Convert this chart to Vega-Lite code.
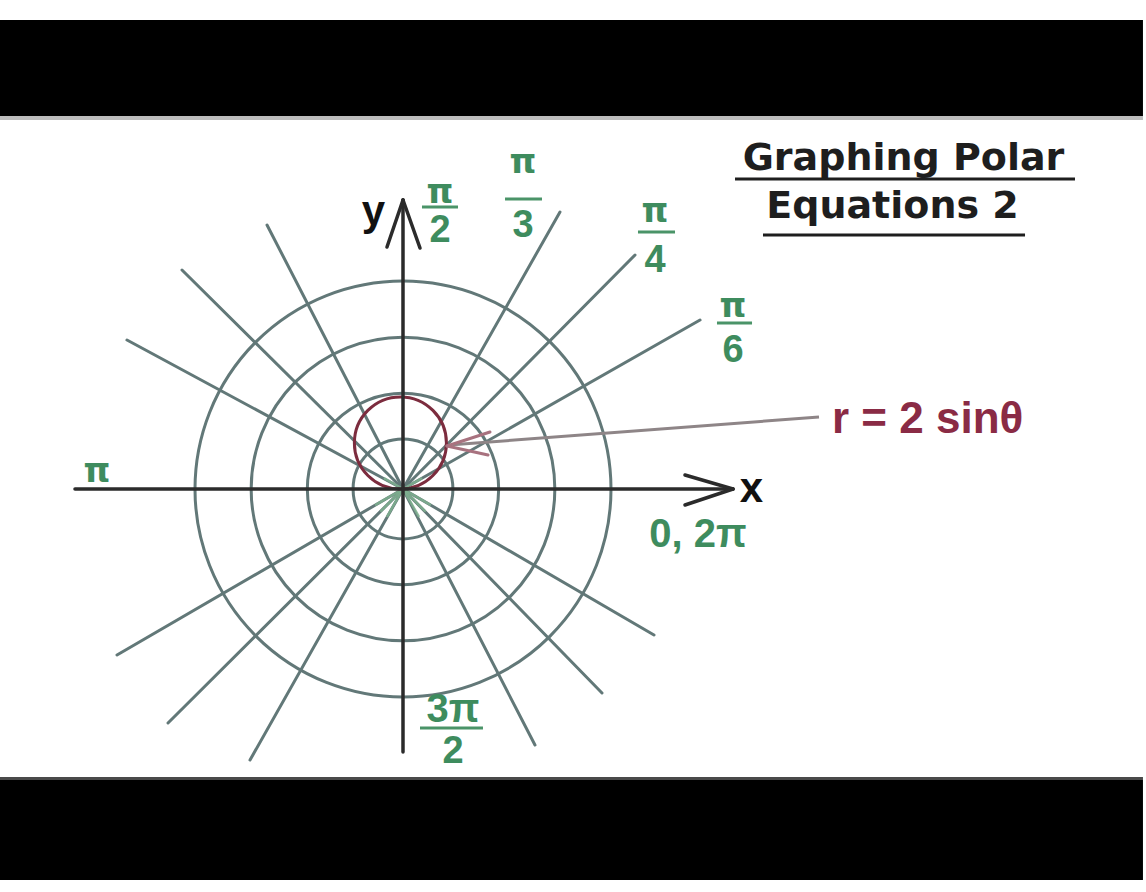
{
  "$schema": "https://vega.github.io/schema/vega-lite/v6.json",
  "width": 1146,
  "height": 892,
  "padding": 0,
  "autosize": {"type": "fit", "contains": "padding"},
  "background": "#ffffff",
  "config": {"view": {"stroke": null}},
  "datasets": {
    "bands": [
      {"x": -7.75, "x2": 14.23, "y": 9.019, "y2": 7.173},
      {"x": -7.75, "x2": 14.23, "y": -5.596, "y2": -7.519}
    ],
    "edgeTop": [{"x": -7.75, "x2": 14.23, "y": 7.173, "y2": 7.096}],
    "edgeBottom": [{"x": -7.75, "x2": 14.23, "y": -5.538, "y2": -5.596}],
    "circles": [
      {"x": 0, "y": 0, "r": 0.96},
      {"x": 0, "y": 0, "r": 1.84},
      {"x": 0, "y": 0, "r": 2.92},
      {"x": 0, "y": 0, "r": 4.0}
    ],
    "curve": [{"x": -0.05, "y": 0.885, "r": 0.885}],
    "spokes": [
      {"x": 0, "y": 0, "x2": 5.712, "y2": 3.25},
      {"x": 0, "y": 0, "x2": 4.462, "y2": 4.5},
      {"x": 0, "y": 0, "x2": 3.019, "y2": 5.327},
      {"x": 0, "y": 0, "x2": -2.615, "y2": 5.077},
      {"x": 0, "y": 0, "x2": -4.25, "y2": 4.212},
      {"x": 0, "y": 0, "x2": -5.308, "y2": 2.865},
      {"x": 0, "y": 0, "x2": -5.5, "y2": -3.192},
      {"x": 0, "y": 0, "x2": -4.519, "y2": -4.5},
      {"x": 0, "y": 0, "x2": -2.942, "y2": -5.212},
      {"x": 0, "y": 0, "x2": 2.538, "y2": -4.923},
      {"x": 0, "y": 0, "x2": 3.827, "y2": -3.923},
      {"x": 0, "y": 0, "x2": 4.827, "y2": -2.808}
    ],
    "greenSpokes": [
      {"x": 0, "y": 0, "x2": -0.52, "y2": -0.3},
      {"x": 0, "y": 0, "x2": -0.42, "y2": -0.42},
      {"x": 0, "y": 0, "x2": -0.3, "y2": -0.52},
      {"x": 0, "y": 0, "x2": 0.3, "y2": -0.52},
      {"x": 0, "y": 0, "x2": 0.42, "y2": -0.42},
      {"x": 0, "y": 0, "x2": 0.52, "y2": -0.3},
      {"x": 0, "y": 0, "x2": 0.35, "y2": 0.2},
      {"x": 0, "y": 0, "x2": -0.35, "y2": 0.2}
    ],
    "axes": [
      {"x": -6.308, "y": 0, "x2": 6.346, "y2": 0},
      {"x": 0, "y": -5.058, "x2": 0, "y2": 5.558},
      {"x": 5.423, "y": 0.269, "x2": 6.346, "y2": 0},
      {"x": 5.423, "y": -0.308, "x2": 6.346, "y2": 0},
      {"x": -0.308, "y": 4.654, "x2": 0, "y2": 5.558},
      {"x": 0.327, "y": 4.635, "x2": 0, "y2": 5.558}
    ],
    "pointer": [{"x": 8.0, "y": 1.385, "x2": 0.95, "y2": 0.85}],
    "pointerHead": [
      {"x": 0.846, "y": 0.827, "x2": 1.673, "y2": 1.096},
      {"x": 0.846, "y": 0.827, "x2": 1.635, "y2": 0.654}
    ],
    "bars": [
      {"x": 0.365, "x2": 1.058, "y": 5.423, "y2": 5.423},
      {"x": 1.962, "x2": 2.673, "y": 5.577, "y2": 5.577},
      {"x": 4.519, "x2": 5.231, "y": 4.942, "y2": 4.942},
      {"x": 6.038, "x2": 6.712, "y": 3.192, "y2": 3.192},
      {"x": 0.327, "x2": 1.538, "y": -4.596, "y2": -4.596}
    ],
    "underlines": [
      {"x": 6.385, "x2": 12.923, "y": 5.962, "y2": 5.962},
      {"x": 6.923, "x2": 11.962, "y": 4.885, "y2": 4.885}
    ],
    "greenDigits": [
      {"x": 0.712, "y": 4.75, "text": "2"},
      {"x": 2.308, "y": 4.846, "text": "3"},
      {"x": 4.846, "y": 4.173, "text": "4"},
      {"x": 6.346, "y": 2.442, "text": "6"},
      {"x": 0.962, "y": -5.269, "text": "2"}
    ],
    "greenPi": [
      {"x": 0.712, "y": 5.5, "text": "π"},
      {"x": 2.308, "y": 6.077, "text": "π"},
      {"x": 4.846, "y": 5.135, "text": "π"},
      {"x": 6.346, "y": 3.308, "text": "π"},
      {"x": -5.885, "y": 0.135, "text": "π"}
    ],
    "greenOther": [
      {"x": 0.962, "y": -4.481, "text": "3π"},
      {"x": 5.673, "y": -1.115, "text": "0, 2π"}
    ],
    "axisLabels": [
      {"x": -0.567, "y": 5.077, "text": "y"},
      {"x": 6.702, "y": -0.25, "text": "x"}
    ],
    "title": [
      {"x": 9.625, "y": 6.135, "text": "Graphing Polar"},
      {"x": 9.413, "y": 5.212, "text": "Equations 2"}
    ],
    "equation": [{"x": 8.25, "y": 1.077, "text": "r = 2 sinθ"}]
  },
  "encoding": {
    "x": {"field": "x", "type": "quantitative", "scale": {"domain": [-7.75, 14.2885], "nice": false, "zero": false}, "axis": null},
    "y": {"field": "y", "type": "quantitative", "scale": {"domain": [-7.75, 9.4038], "nice": false, "zero": false}, "axis": null}
  },
  "layer": [
    {"data": {"name": "bands"}, "mark": {"type": "rect", "color": "#000000"}, "encoding": {"x2": {"field": "x2"}, "y2": {"field": "y2"}}},
    {"data": {"name": "edgeTop"}, "mark": {"type": "rect", "color": "#bdbdbd"}, "encoding": {"x2": {"field": "x2"}, "y2": {"field": "y2"}}},
    {"data": {"name": "edgeBottom"}, "mark": {"type": "rect", "color": "#4a4a4a"}, "encoding": {"x2": {"field": "x2"}, "y2": {"field": "y2"}}},
    {"data": {"name": "circles"}, "mark": {"type": "point", "shape": "circle", "filled": false, "stroke": "#627878", "strokeWidth": 3, "opacity": 1},
     "encoding": {"size": {"field": "r", "type": "quantitative", "scale": {"type": "pow", "exponent": 2, "domain": [0, 4], "range": [0, 173056]}, "legend": null}}},
    {"data": {"name": "spokes"}, "mark": {"type": "rule", "color": "#627878", "strokeWidth": 3, "strokeCap": "round"}, "encoding": {"x2": {"field": "x2"}, "y2": {"field": "y2"}}},
    {"data": {"name": "greenSpokes"}, "mark": {"type": "rule", "color": "#7fb08f", "strokeWidth": 2.5, "strokeCap": "round", "opacity": 0.85}, "encoding": {"x2": {"field": "x2"}, "y2": {"field": "y2"}}},
    {"data": {"name": "curve"}, "mark": {"type": "point", "shape": "circle", "filled": false, "stroke": "#7c2c3e", "strokeWidth": 3, "opacity": 1},
     "encoding": {"size": {"field": "r", "type": "quantitative", "scale": {"type": "pow", "exponent": 2, "domain": [0, 4], "range": [0, 173056]}, "legend": null}}},
    {"data": {"name": "pointer"}, "mark": {"type": "rule", "color": "#8e8587", "strokeWidth": 3}, "encoding": {"x2": {"field": "x2"}, "y2": {"field": "y2"}}},
    {"data": {"name": "pointerHead"}, "mark": {"type": "rule", "color": "#a8727f", "strokeWidth": 3, "strokeCap": "round"}, "encoding": {"x2": {"field": "x2"}, "y2": {"field": "y2"}}},
    {"data": {"name": "axes"}, "mark": {"type": "rule", "color": "#2b2b2b", "strokeWidth": 3.5, "strokeCap": "round"}, "encoding": {"x2": {"field": "x2"}, "y2": {"field": "y2"}}},
    {"data": {"name": "bars"}, "mark": {"type": "rule", "color": "#4a9468", "strokeWidth": 3}, "encoding": {"x2": {"field": "x2"}, "y2": {"field": "y2"}}},
    {"data": {"name": "underlines"}, "mark": {"type": "rule", "color": "#1e1e1e", "strokeWidth": 3}, "encoding": {"x2": {"field": "x2"}, "y2": {"field": "y2"}}},
    {"data": {"name": "greenDigits"}, "mark": {"type": "text", "color": "#3e8c5e", "font": "Liberation Sans", "fontWeight": "bold", "fontSize": 38, "align": "center", "baseline": "alphabetic"}, "encoding": {"text": {"field": "text"}}},
    {"data": {"name": "greenPi"}, "mark": {"type": "text", "color": "#3e8c5e", "font": "DejaVu Sans", "fontWeight": "bold", "fontSize": 34, "align": "center", "baseline": "alphabetic"}, "encoding": {"text": {"field": "text"}}},
    {"data": {"name": "greenOther"}, "mark": {"type": "text", "color": "#3e8c5e", "font": "Liberation Sans", "fontWeight": "bold", "fontSize": 40, "align": "center", "baseline": "alphabetic"}, "encoding": {"text": {"field": "text"}}},
    {"data": {"name": "axisLabels"}, "mark": {"type": "text", "color": "#111111", "font": "Liberation Sans", "fontWeight": "bold", "fontSize": 42, "align": "center", "baseline": "alphabetic"}, "encoding": {"text": {"field": "text"}}},
    {"data": {"name": "title"}, "mark": {"type": "text", "color": "#1e1e1e", "font": "DejaVu Sans", "fontWeight": "bold", "fontSize": 38, "align": "center", "baseline": "alphabetic"}, "encoding": {"text": {"field": "text"}}},
    {"data": {"name": "equation"}, "mark": {"type": "text", "color": "#8a2b45", "font": "Liberation Sans", "fontWeight": "bold", "fontSize": 44, "align": "left", "baseline": "alphabetic"}, "encoding": {"text": {"field": "text"}}}
  ]
}
